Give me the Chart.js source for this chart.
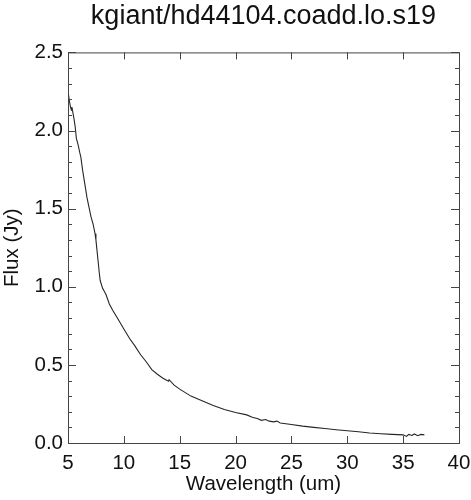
<!DOCTYPE html>
<html>
<head>
<meta charset="utf-8">
<script src="https://cdn.jsdelivr.net/npm/chart.js@4"></script>
<style>
  body { margin: 0; background: #fff; }
  #wrap { width: 471px; height: 500px; }
</style>
</head>
<body>
<div id="wrap"><canvas id="spec"></canvas></div>
<script>
// wavelength (um) and flux (Jy)
const wavelength = [5.03, 5.1, 5.2, 5.3, 5.35, 5.45, 5.55, 5.65, 5.75, 5.9, 6.05, 6.15, 6.3, 6.5, 6.7,
  6.85, 7.05, 7.25, 7.42, 7.5, 7.6, 7.7, 7.8, 7.88, 8.1, 8.4, 8.7, 9.0, 9.5, 10.0, 10.5, 11.0, 11.5,
  12.0, 12.5, 13.0, 13.5, 14.0, 14.05, 14.5, 15.0, 16.0, 17.0, 18.0, 19.0, 20.0, 21.0, 21.5, 22.0,
  22.3, 22.7, 23.0, 23.4, 23.7, 24.0, 25.0, 26.0, 27.0, 28.0, 29.0, 30.0, 31.0, 32.0, 33.0, 34.0,
  35.0, 35.3, 35.5, 35.8, 36.0, 36.3, 36.6, 36.9];
const flux = [2.24, 2.2, 2.16, 2.13, 2.15, 2.11, 2.07, 2.02, 1.95, 1.91, 1.86, 1.83, 1.75, 1.66, 1.57,
  1.52, 1.45, 1.4, 1.34, 1.3, 1.23, 1.16, 1.09, 1.04, 0.99, 0.95, 0.89, 0.85, 0.79, 0.73, 0.67, 0.62, 0.565,
  0.52, 0.47, 0.44, 0.415, 0.395, 0.405, 0.37, 0.345, 0.3, 0.27, 0.24, 0.215, 0.195, 0.18, 0.165, 0.155,
  0.145, 0.15, 0.14, 0.135, 0.14, 0.128, 0.118, 0.108, 0.1, 0.093, 0.085, 0.078, 0.072, 0.064, 0.059, 0.055,
  0.052, 0.042, 0.055, 0.048, 0.058, 0.047, 0.055, 0.052];
const xTicks = [5, 10, 15, 20, 25, 30, 35, 40];
const yTicks = [0, 0.5, 1.0, 1.5, 2.0, 2.5];
const yMinorStep = 0.1;

const points = wavelength.map((w, i) => ({ x: w, y: flux[i] }));
const FONT = 'Liberation Sans, Arial, Helvetica, sans-serif';

// box round the plot with ticks pointing inward, like the IDL original
const frame = {
  id: 'frame',
  afterDraw(chart) {
    const c = chart.ctx, a = chart.chartArea;
    const xs = chart.scales.x, ys = chart.scales.y;
    c.save();
    c.strokeStyle = '#444';
    c.lineWidth = 1;
    c.strokeRect(a.left + 0.5, a.top + 0.5, a.right - a.left, a.bottom - a.top);
    c.beginPath();
    xTicks.forEach(v => {
      const p = Math.round(xs.getPixelForValue(v)) + 0.5;
      c.moveTo(p, a.bottom); c.lineTo(p, a.bottom - 7);
      c.moveTo(p, a.top); c.lineTo(p, a.top + 7);
    });
    for (let v = 0; v <= 2.5001; v += yMinorStep) {
      const major = Math.abs(v / 0.5 - Math.round(v / 0.5)) < 1e-6;
      const len = major ? 8 : 4;
      const p = Math.round(ys.getPixelForValue(v)) + 0.5;
      c.moveTo(a.left, p); c.lineTo(a.left + len, p);
      c.moveTo(a.right, p); c.lineTo(a.right - len, p);
    }
    c.stroke();
    c.restore();
  }
};

new Chart(document.getElementById('spec'), {
  type: 'scatter',
  data: {
    datasets: [{
      data: points,
      showLine: true,
      borderColor: '#262626',
      borderWidth: 1.1,
      pointRadius: 0,
      tension: 0
    }]
  },
  options: {
    responsive: true,
    maintainAspectRatio: false,
    animation: false,
    layout: { padding: { top: 0, right: 12, bottom: 0, left: 0 } },
    plugins: {
      legend: { display: false },
      tooltip: { enabled: false },
      title: {
        display: true,
        fullSize: false,
        text: 'kgiant/hd44104.coadd.lo.s19',
        color: '#111',
        font: { family: FONT, size: 27, weight: 'normal' },
        padding: { top: 0, bottom: 20 }
      }
    },
    scales: {
      x: {
        type: 'linear',
        min: 5,
        max: 40,
        afterFit: s => { s.height = 57; s.paddingLeft = 0; s.paddingRight = 0; },
        afterBuildTicks: s => { s.ticks = xTicks.map(v => ({ value: v })); },
        grid: { display: false, drawTicks: false },
        border: { display: false },
        ticks: {
          color: '#111',
          padding: 8,
          font: { family: FONT, size: 20.5 }
        },
        title: {
          display: true,
          text: 'Wavelength (um)',
          color: '#111',
          padding: { top: 0, bottom: 3 },
          font: { family: FONT, size: 20.5 }
        }
      },
      y: {
        type: 'linear',
        min: 0,
        max: 2.5,
        afterFit: s => { s.width = 68; },
        afterBuildTicks: s => { s.ticks = yTicks.map(v => ({ value: v })); },
        grid: { display: false, drawTicks: false },
        border: { display: false },
        ticks: {
          color: '#111',
          padding: 5,
          callback: v => v.toFixed(1),
          font: { family: FONT, size: 20.5 }
        },
        title: {
          display: true,
          text: 'Flux (Jy)',
          color: '#111',
          padding: { top: 0, bottom: 0 },
          font: { family: FONT, size: 20.5 }
        }
      }
    }
  },
  plugins: [frame]
});
</script>
</body>
</html>
